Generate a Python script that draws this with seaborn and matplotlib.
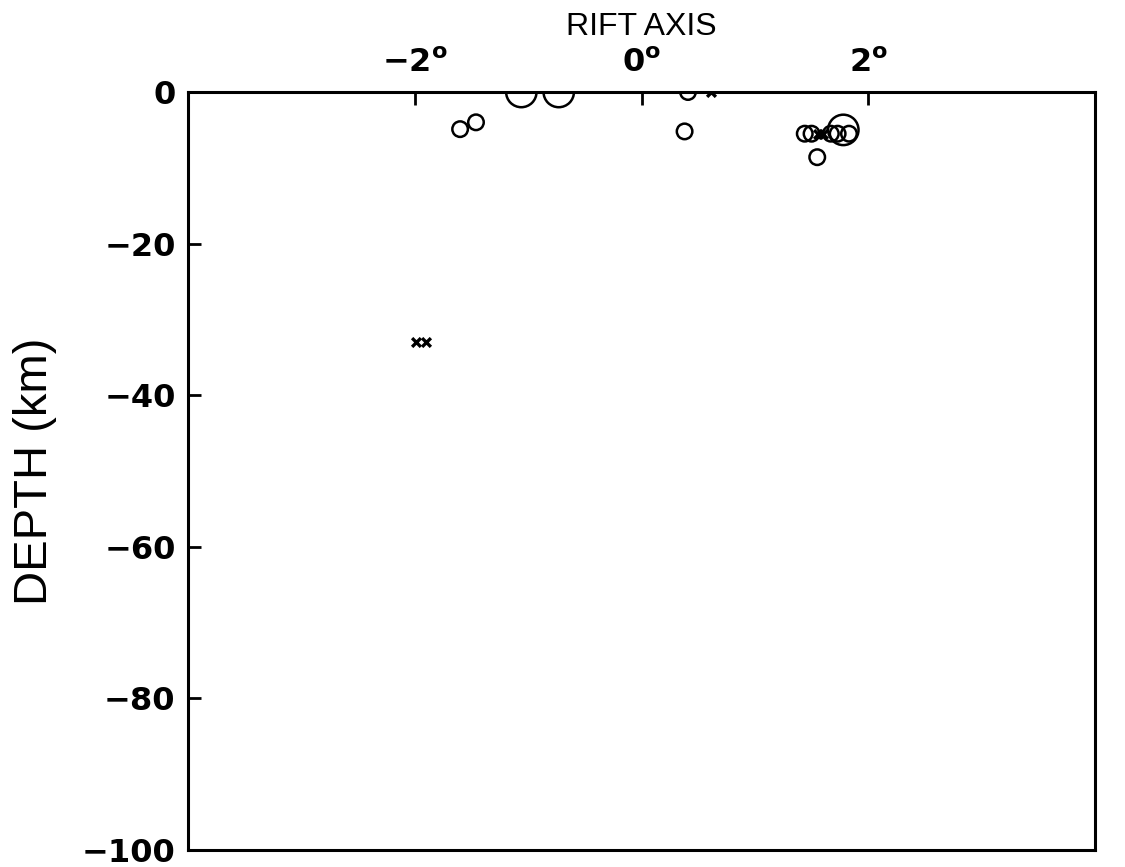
import matplotlib
matplotlib.use("Agg")
import matplotlib.pyplot as plt
import numpy as np
import pandas as pd
import seaborn as sns

# Distance from the rift axis (degrees) and focal depth (km) of located events
circle_dist = [-1.06, -0.73, -1.60, -1.46, 0.41, 0.38,
               1.44, 1.50, 1.67, 1.73, 1.83, 1.78, 1.55]
circle_depth = [0.0, 0.0, -4.9, -4.0, 0.0, -5.2,
                -5.5, -5.5, -5.5, -5.5, -5.5, -5.0, -8.6]
circle_class = ["large", "large", "small", "small", "small", "small",
                "small", "small", "small", "small", "small", "large", "small"]

# Events with poorly constrained (fixed) depths
cross_dist = [0.61, -1.99, -1.90, 1.56, 1.60]
cross_depth = [0.0, -33.0, -33.0, -5.5, -5.5]

x_ticks = [-2, 0, 2]
x_tick_labels = [r"$\mathregular{-2^{o}}$", r"$\mathregular{0^{o}}$", r"$\mathregular{2^{o}}$"]
y_ticks = [0, -20, -40, -60, -80, -100]

circles = pd.DataFrame({"dist": circle_dist, "depth": circle_depth, "cls": circle_class})
crosses = pd.DataFrame({"dist": cross_dist, "depth": cross_depth})

sns.set_theme(style="white")
plt.rcParams["font.family"] = ["Liberation Sans", "DejaVu Sans"]

fig = plt.figure(figsize=(11.25, 8.67), dpi=100)
ax = fig.add_axes([188 / 1125, 1 - 850 / 867, (1095 - 188) / 1125, (850 - 92) / 867])

sns.scatterplot(data=circles, x="dist", y="depth", size="cls",
                sizes={"small": 125, "large": 480}, marker="o",
                facecolor="none", edgecolor="black", linewidth=1.8,
                legend=False, ax=ax, zorder=3)
sns.scatterplot(data=crosses, x="dist", y="depth", marker="x",
                color="black", s=40, linewidth=2.4, legend=False, ax=ax, zorder=3)

ax.set_xlim(-4, 4)
ax.set_ylim(-100, 0)

for side, sp in ax.spines.items():
    sp.set_visible(True)
    sp.set_color("black")
    sp.set_linewidth(2.2)

tick_font = dict(fontfamily="DejaVu Sans", fontweight="bold", fontsize=23)

ax.xaxis.tick_top()
ax.set_xticks(x_ticks)
ax.set_xticklabels(x_tick_labels, **tick_font)
ax.set_yticks(y_ticks)
ax.set_yticklabels([f"{v}".replace("-", "\u2212") for v in y_ticks], **tick_font)

ax.tick_params(axis="x", which="both", direction="in", length=9, width=2,
               top=True, bottom=False, labeltop=True, labelbottom=False,
               pad=9, colors="black")
ax.tick_params(axis="y", which="both", direction="in", length=9, width=2,
               left=True, right=False, pad=9, colors="black")

ax.xaxis.set_label_position("top")
ax.set_xlabel("RIFT AXIS", fontsize=23, labelpad=10, color="black")
ax.set_ylabel("DEPTH (km)", fontsize=34, labelpad=18, color="black")

fig.savefig("out.png", dpi=100, facecolor="white")
